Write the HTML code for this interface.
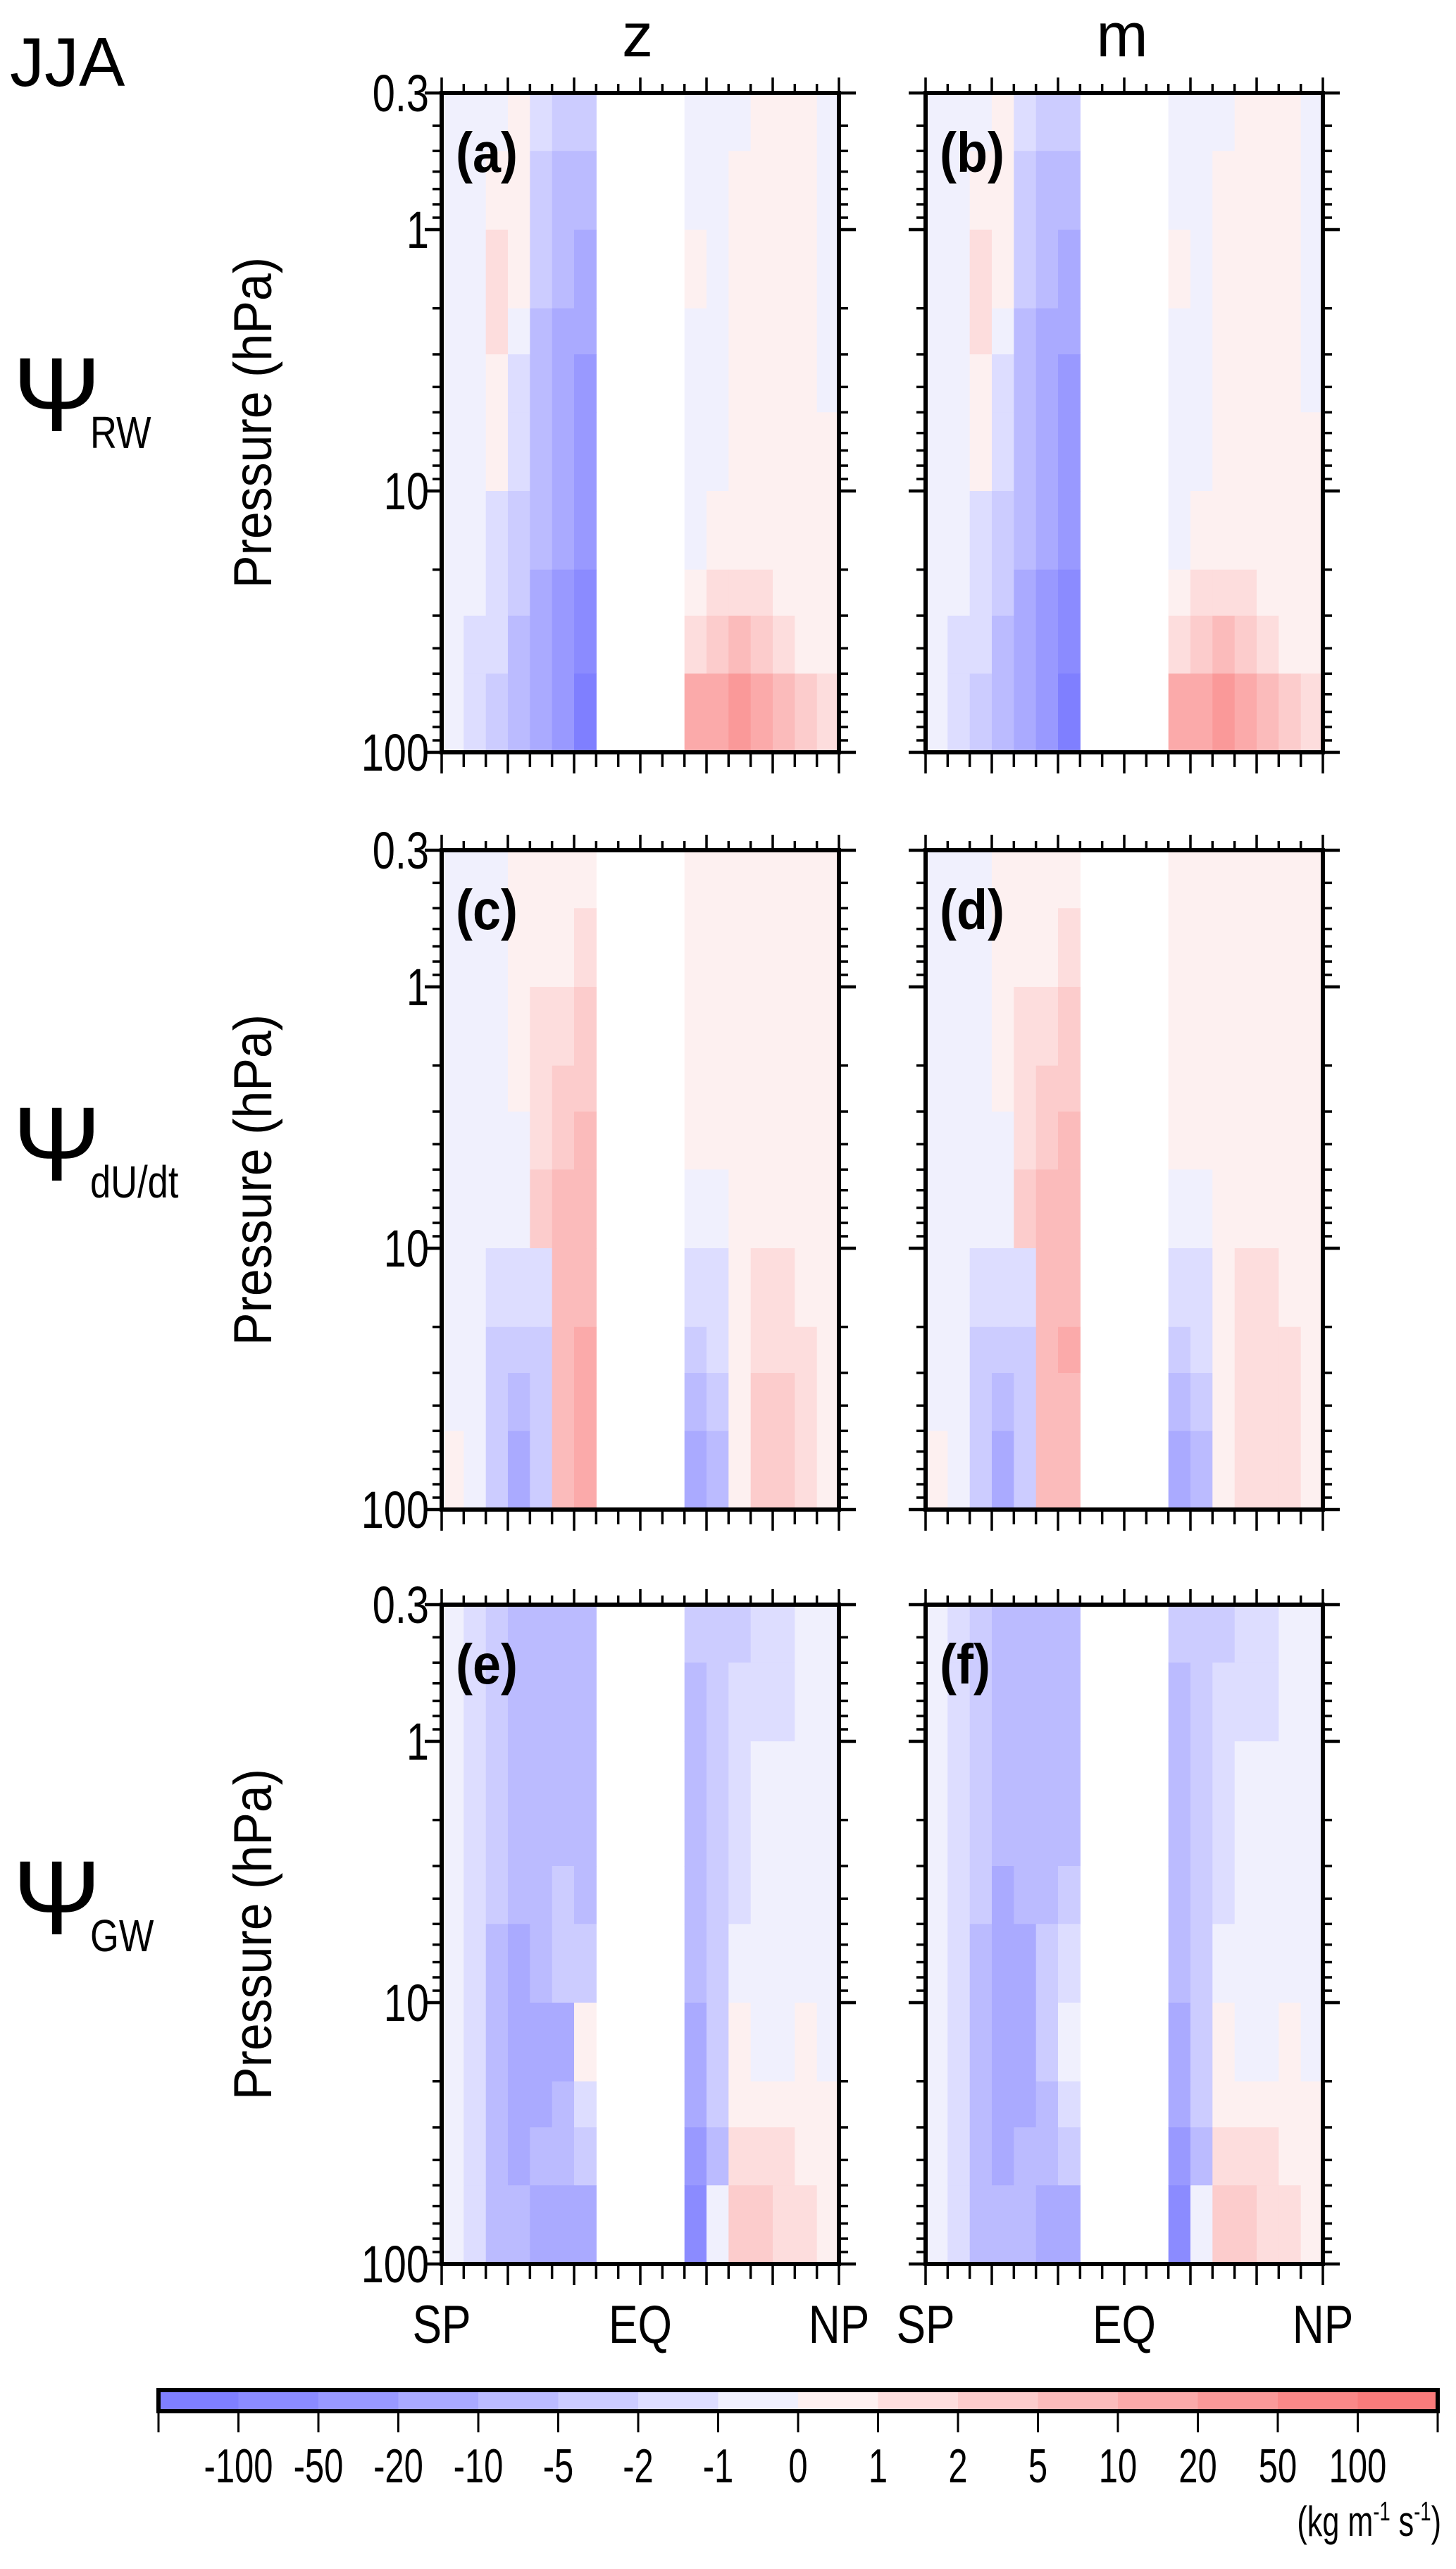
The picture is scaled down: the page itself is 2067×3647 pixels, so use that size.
<!DOCTYPE html>
<html><head><meta charset="utf-8">
<style>
html,body{margin:0;padding:0;background:#fff;}
svg{display:block;}
text{font-family:"Liberation Sans",sans-serif;}
</style></head>
<body>
<svg id="fig" xmlns="http://www.w3.org/2000/svg" width="2067" height="3647" viewBox="0 0 2067 3647">
<rect x="0" y="0" width="2067" height="3647" fill="#fff"/>
</svg>
<script>
// ---- data ----
const latEdgesSH = [-90,-80,-70,-60,-50,-40,-30,-20];
const latEdgesNH = [20,30,40,50,60,70,80,90];
const presEdges = [0.3,0.5,1,2,3,5,10,20,30,50,100];
const cbLabels = ["-100","-50","-20","-10","-5","-2","-1","0","1","2","5","10","20","50","100"];
const cbColors = ["#7f7fff","#8b8bff","#9999ff","#aaaaff","#bbbbff","#ccccff","#ddddff","#f0f0fd","#fdf0f0","#fddddd","#fccccc","#fbbbbb","#fbaaaa","#fa9999","#fa8888","#f97b7b"];
// class grids: rows = pressure bands top->bottom, cols = lat bins
const panelA_SH = [
[7,7,7,8,6,5,5],[7,7,8,8,5,4,4],[7,7,9,8,5,4,3],[7,7,9,7,4,3,3],[7,7,8,6,4,3,2],
[7,7,8,6,4,3,2],[7,7,6,5,4,3,2],[7,7,6,5,3,2,1],[7,6,6,4,3,2,1],[7,6,5,4,3,2,0]];
const panelA_NH = [
[7,7,7,8,8,8,7],[7,7,8,8,8,8,7],[8,7,8,8,8,8,7],[7,7,8,8,8,8,7],[7,7,8,8,8,8,7],
[7,7,8,8,8,8,8],[7,8,8,8,8,8,8],[8,9,9,9,8,8,8],[9,10,11,10,9,8,8],[12,12,13,12,11,10,9]];
const panelB_SH = [
[7,7,7,8,6,5,5],[7,7,8,8,5,4,4],[7,7,9,8,5,4,3],[7,7,9,7,4,3,3],[7,7,8,6,4,3,2],
[7,7,8,6,4,3,2],[7,7,6,5,4,3,2],[7,7,6,5,3,2,1],[7,6,6,4,3,2,1],[7,6,5,4,3,2,0]];
const panelB_NH = [
[7,7,7,8,8,8,7],[7,7,8,8,8,8,7],[8,7,8,8,8,8,7],[7,7,8,8,8,8,7],[7,7,8,8,8,8,7],
[7,7,8,8,8,8,8],[7,8,8,8,8,8,8],[8,9,9,9,8,8,8],[9,10,11,10,9,8,8],[12,12,13,12,11,10,9]];
const panelC_SH = [
[7,7,7,8,8,8,8],[7,7,7,8,8,8,9],[7,7,7,8,9,9,10],[7,7,7,8,9,10,10],[7,7,7,7,9,10,11],
[7,7,7,7,10,11,11],[7,7,6,6,6,11,11],[7,7,5,5,5,11,12],[7,7,5,4,5,11,12],[8,7,5,3,5,11,12]];
const panelC_NH = [
[8,8,8,8,8,8,8],[8,8,8,8,8,8,8],[8,8,8,8,8,8,8],[8,8,8,8,8,8,8],[8,8,8,8,8,8,8],
[7,7,8,8,8,8,8],[6,6,8,9,9,8,8],[5,6,8,9,9,9,8],[4,5,8,10,10,9,8],[3,4,8,10,10,9,8]];
const panelD_SH = [
[7,7,7,8,8,8,8],[7,7,7,8,8,8,9],[7,7,7,8,9,9,10],[7,7,7,8,9,10,10],[7,7,7,7,9,10,11],
[7,7,7,7,10,11,11],[7,7,6,6,6,11,11],[7,7,5,5,5,11,12],[7,7,5,4,5,11,11],[8,7,5,3,5,11,11]];
const panelD_NH = [
[8,8,8,8,8,8,8],[8,8,8,8,8,8,8],[8,8,8,8,8,8,8],[8,8,8,8,8,8,8],[8,8,8,8,8,8,8],
[7,7,8,8,8,8,8],[6,6,8,9,9,8,8],[5,6,8,9,9,9,8],[4,5,8,9,9,9,8],[3,4,8,9,9,9,8]];
const panelE_SH = [
[7,6,5,4,4,4,4],[7,6,5,4,4,4,4],[7,6,5,4,4,4,4],[7,6,5,4,4,4,4],[7,6,5,4,4,5,4],
[7,6,4,3,4,5,5],[7,6,4,3,3,3,8],[7,6,4,3,3,4,6],[7,6,4,3,4,4,5],[7,6,4,4,3,3,3]];
const panelE_NH = [
[5,5,5,6,6,7,7],[4,5,6,6,6,7,7],[4,5,6,7,7,7,7],[4,5,6,7,7,7,7],[4,5,6,7,7,7,7],
[4,5,7,7,7,7,7],[3,5,8,7,7,8,7],[3,5,8,8,8,8,8],[2,4,9,9,9,8,8],[1,7,10,10,9,9,8]];
const panelF_SH = [
[7,6,5,4,4,4,4],[7,6,5,4,4,4,4],[7,6,5,4,4,4,4],[7,6,5,4,4,4,4],[7,6,5,3,4,4,5],
[7,6,4,3,3,5,6],[7,6,4,3,3,5,7],[7,6,4,3,3,4,6],[7,6,4,3,4,4,5],[7,6,4,4,4,3,3]];
const panelF_NH = [
[5,5,5,6,6,7,7],[4,5,6,6,6,7,7],[4,5,6,7,7,7,7],[4,5,6,7,7,7,7],[4,5,6,7,7,7,7],
[4,5,7,7,7,7,7],[3,5,8,7,7,8,7],[3,5,8,8,8,8,8],[2,4,9,9,9,8,8],[1,7,10,10,9,9,8]];
const yTickVals = [0.3,1,10,100];
const yTickLabels = ["0.3","1","10","100"];

// ---- layout ----
const NS="http://www.w3.org/2000/svg";
const svg=document.getElementById('fig');
const PW=564, PH=936;
const colX=[627,1314], rowY=[132,1207,2278];
function el(tag,attrs,parent){const e=document.createElementNS(NS,tag);for(const k in attrs)e.setAttribute(k,attrs[k]);(parent||svg).appendChild(e);return e;}
function xScale(x0,lat){return x0+(lat+90)/180*PW;}
function yScale(y0,p){return y0+Math.log(p/0.3)/Math.log(100/0.3)*PH;}

const panels=[
 {id:'a',c:0,r:0,sh:panelA_SH,nh:panelA_NH},{id:'b',c:1,r:0,sh:panelB_SH,nh:panelB_NH},
 {id:'c',c:0,r:1,sh:panelC_SH,nh:panelC_NH},{id:'d',c:1,r:1,sh:panelD_SH,nh:panelD_NH},
 {id:'e',c:0,r:2,sh:panelE_SH,nh:panelE_NH},{id:'f',c:1,r:2,sh:panelF_SH,nh:panelF_NH}];

panels.forEach(P=>{
  const x0=colX[P.c], y0=rowY[P.r];
  const g=el('g',{});
  
  
  [[P.sh,latEdgesSH],[P.nh,latEdgesNH]].forEach(([grid,edges])=>{
    for(let i=0;i<grid.length;i++){
      for(let j=0;j<grid[i].length;j++){
        const xa=xScale(x0,edges[j]), xb=xScale(x0,edges[j+1]);
        const ya=yScale(y0,presEdges[i]), yb=yScale(y0,presEdges[i+1]);
        const r=el('rect',{x:xa.toFixed(1),y:ya.toFixed(1),width:(xb-xa+0.6).toFixed(1),height:(yb-ya+0.6).toFixed(1),fill:cbColors[grid[i][j]]},g);
        
        
      }
    }
  });
  const fr=el('rect',{x:x0,y:y0,width:PW,height:PH,fill:'none',stroke:'#000','stroke-width':6},g);
  
  
  for(let lat=-90;lat<=90;lat+=10){
    const x=xScale(x0,lat); const L=(lat%30===0)?22:13;
    el('line',{x1:x,y1:y0,x2:x,y2:y0-L,stroke:'#000','stroke-width':3.5},g);
    el('line',{x1:x,y1:y0+PH,x2:x,y2:y0+PH+L+8,stroke:'#000','stroke-width':3.5},g);
  }
  const minors=[0.4,0.5,0.6,0.7,0.8,0.9,2,3,4,5,6,7,8,9,20,30,40,50,60,70,80,90];
  minors.forEach(p=>{const y=yScale(y0,p);
    el('line',{x1:x0,y1:y,x2:x0-13,y2:y,stroke:'#000','stroke-width':3.5},g);
    el('line',{x1:x0+PW,y1:y,x2:x0+PW+13,y2:y,stroke:'#000','stroke-width':3.5},g);});
  yTickVals.forEach(p=>{const y=yScale(y0,p);
    el('line',{x1:x0,y1:y,x2:x0-24,y2:y,stroke:'#000','stroke-width':4.5},g);
    el('line',{x1:x0+PW,y1:y,x2:x0+PW+24,y2:y,stroke:'#000','stroke-width':4.5},g);});
  const t=el('text',{x:0,y:0,'font-size':80,'font-weight':'bold',transform:`translate(${x0+20},${y0+112}) scale(0.9,1)`},g);
  t.textContent='('+P.id+')';
  
  
  if(P.c===0){
    yTickVals.forEach((p,k)=>{const y=yScale(y0,p);
      const tl=el('text',{x:0,y:0,'font-size':74,'text-anchor':'end',transform:`translate(${x0-18},${y+26}) scale(0.78,1)`},g);
      tl.textContent=yTickLabels[k];
      
      });
    const yl=el('text',{x:0,y:0,'font-size':76,'text-anchor':'middle',transform:`translate(${x0-242},${y0+PH/2}) rotate(-90) scale(0.92,1)`},g);
    yl.textContent='Pressure (hPa)';
    
    
  }
  if(P.r===2){
    [['SP',-90],['EQ',0],['NP',90]].forEach(([s,lat])=>{
      const xl=el('text',{x:0,y:0,'font-size':76,'text-anchor':'middle',transform:`translate(${xScale(x0,lat)},${y0+PH+112}) scale(0.82,1)`},g);
      xl.textContent=s;
      
      });
  }
});

function txt(s,x,y,size,name,extra){const t=el('text',Object.assign({x:x,y:y,'font-size':size},extra||{}));t.textContent=s;return t;}
txt('z',905,80,88,'column-title-z',{'text-anchor':'middle'});
txt('m',1593,80,88,'column-title-m',{'text-anchor':'middle'});
txt('JJA',14,122,98,'season-label');
const psiRows=[{y:612,sub:'RW'},{y:1676,sub:'dU/dt'},{y:2746,sub:'GW'}];
psiRows.forEach(r=>{
  const t=el('text',{x:18,y:r.y,'font-size':150,'font-family':'"Liberation Serif",serif'});
  t.textContent='Ψ';
  
  
  const s=el('text',{x:0,y:0,'font-size':64,transform:`translate(128,${r.y+24}) scale(0.82,1)`});
  s.textContent=r.sub;
  
  
});

const cbX0=225, cbX1=2041, cbY=3393, cbH=30;
const cbW=(cbX1-cbX0)/cbColors.length;
const cbg=el('g',{});


cbColors.forEach((c,i)=>{
  const r=el('rect',{x:cbX0+i*cbW,y:cbY,width:cbW+0.5,height:cbH,fill:c},cbg);
  
  
});
el('rect',{x:cbX0,y:cbY,width:cbX1-cbX0,height:cbH,fill:'none',stroke:'#000','stroke-width':6},cbg);
for(let i=0;i<=cbColors.length;i++){const x=cbX0+i*cbW;
  el('line',{x1:x,y1:cbY+cbH,x2:x,y2:cbY+cbH+30,stroke:'#000','stroke-width':3},cbg);}
cbLabels.forEach((s,i)=>{
  const t=el('text',{x:0,y:0,'font-size':68,'text-anchor':'middle',transform:`translate(${cbX0+(i+1)*cbW},${3524}) scale(0.72,1)`},cbg);
  t.textContent=s;
  
  
});
const u=el('text',{x:0,y:0,'font-size':60,'text-anchor':'end',transform:`translate(2046,3600) scale(0.72,1)`},cbg);
u.innerHTML='(kg m<tspan dy="-22" font-size="38">-1</tspan><tspan dy="22"> s</tspan><tspan dy="-22" font-size="38">-1</tspan><tspan dy="22">)</tspan>';


</script>
</body></html>
